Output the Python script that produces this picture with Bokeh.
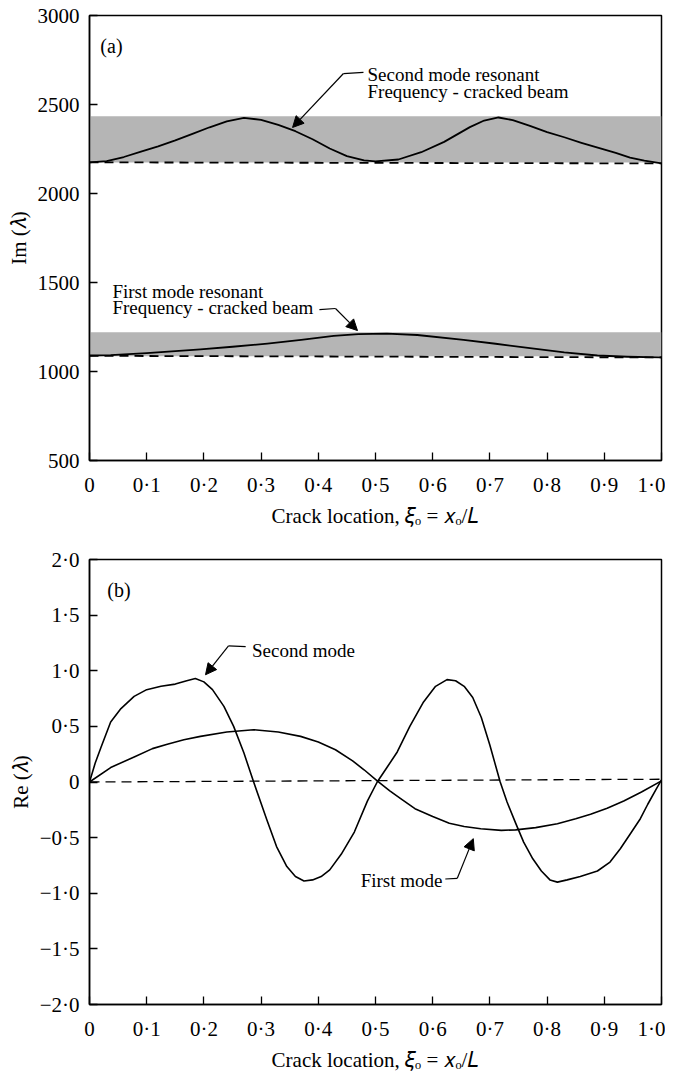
from bokeh.plotting import figure
from bokeh.layouts import column
from bokeh.models import Range1d, FixedTicker, Arrow, NormalHead, ColumnDataSource
from bokeh.embed import file_html
from bokeh.resources import INLINE
from bokeh.core.properties import value

# ---------------- data: panel (a) ----------------
im2_x = [0, 0.03, 0.06, 0.09, 0.12, 0.15, 0.18, 0.21, 0.24, 0.27, 0.30, 0.33, 0.36, 0.39,
         0.42, 0.45, 0.48, 0.50, 0.54, 0.58, 0.62, 0.665, 0.69, 0.715, 0.74, 0.77, 0.80,
         0.83, 0.86, 0.89, 0.92, 0.945, 0.97, 1.0]
im2_y = [2175, 2182, 2205, 2235, 2265, 2298, 2335, 2372, 2405, 2425, 2414, 2385, 2350, 2305,
         2253, 2210, 2186, 2181, 2191, 2232, 2290, 2373, 2410, 2427, 2412, 2380, 2345,
         2316, 2285, 2256, 2228, 2202, 2185, 2169]
im1_x = [0, 0.037, 0.1, 0.194, 0.25, 0.311, 0.37, 0.427, 0.47, 0.52, 0.573, 0.654, 0.71,
         0.77, 0.83, 0.888, 0.94, 1.0]
im1_y = [1090, 1092, 1103, 1124, 1139, 1157, 1178, 1200, 1210, 1213, 1205, 1178, 1156,
         1131, 1108, 1090, 1083, 1079]
uncracked_x = [0, 1]
uncracked2 = [2175, 2169]
uncracked1 = [1088, 1079]
band_bottom = [2174, 1086]
band_top = [2434, 1221]

# ---------------- data: panel (b) ----------------
re2_x = [0, 0.01, 0.02, 0.037, 0.055, 0.078, 0.10, 0.125, 0.15, 0.17, 0.185, 0.20, 0.215,
         0.235, 0.252, 0.27, 0.287, 0.31, 0.327, 0.345, 0.36, 0.375, 0.39, 0.405, 0.42,
         0.44, 0.463, 0.486, 0.503, 0.52, 0.538, 0.56, 0.584, 0.605, 0.625, 0.64, 0.655,
         0.67, 0.685, 0.70, 0.718, 0.73, 0.745, 0.759, 0.775, 0.79, 0.805, 0.818, 0.835,
         0.858, 0.888, 0.91, 0.928, 0.945, 0.963, 0.976, 0.99, 1.0]
re2_y = [0, 0.17, 0.31, 0.54, 0.66, 0.77, 0.83, 0.86, 0.88, 0.91, 0.93, 0.90, 0.83,
         0.68, 0.50, 0.26, 0.0, -0.34, -0.58, -0.76, -0.85, -0.89, -0.88, -0.85, -0.79,
         -0.65, -0.45, -0.17, 0.0, 0.13, 0.27, 0.50, 0.72, 0.86, 0.92, 0.91, 0.86,
         0.76, 0.58, 0.33, 0.0, -0.18, -0.37, -0.54, -0.69, -0.80, -0.88, -0.90, -0.88,
         -0.85, -0.80, -0.72, -0.60, -0.47, -0.33, -0.20, -0.07, 0.02]
re1_x = [0, 0.037, 0.08, 0.11, 0.136, 0.165, 0.194, 0.24, 0.287, 0.33, 0.369, 0.40, 0.43,
         0.46, 0.48, 0.503, 0.525, 0.544, 0.569, 0.60, 0.629, 0.655, 0.684, 0.72, 0.745,
         0.78, 0.818, 0.85, 0.876, 0.905, 0.934, 0.965, 1.0]
re1_y = [0, 0.13, 0.23, 0.30, 0.34, 0.38, 0.41, 0.45, 0.47, 0.45, 0.41, 0.36, 0.29,
         0.19, 0.11, 0.01, -0.08, -0.15, -0.24, -0.31, -0.37, -0.40, -0.42, -0.435, -0.43,
         -0.41, -0.375, -0.33, -0.29, -0.235, -0.17, -0.09, 0.01]
re_zero_y = [0, 0.025]

# ---------------- ticks ----------------
x_ticks = [0, 0.1, 0.2, 0.3, 0.4, 0.5, 0.6, 0.7, 0.8, 0.9, 1.0]
x_tick_labels = ["0", "0·1", "0·2", "0·3", "0·4", "0·5", "0·6", "0·7", "0·8", "0·9", "1·0"]
im_ticks = [500, 1000, 1500, 2000, 2500, 3000]
im_tick_labels = ["500", "1000", "1500", "2000", "2500", "3000"]
re_ticks = [-2.0, -1.5, -1.0, -0.5, 0, 0.5, 1.0, 1.5, 2.0]
re_tick_labels = ["−2·0", "−1·5", "−1·0", "−0·5", "0", "0·5", "1·0", "1·5", "2·0"]

# ---------------- annotation texts (data coordinates) ----------------
a_text = ["(a)", "Second mode resonant", "Frequency - cracked beam",
          "First mode resonant", "Frequency - cracked beam"]
a_text_x = [0.019, 0.486, 0.486, 0.040, 0.040]
a_text_y = [2828, 2669, 2575, 1451, 1361]
a_lead2_x = [0.479, 0.444]
a_lead2_y = [2680, 2674]
a_tip2 = (0.355, 2371)
a_lead1_x = [0.402, 0.430]
a_lead1_y = [1348, 1354]
a_tip1 = (0.4685, 1230)

b_text = ["(b)", "Second mode", "First mode"]
b_text_x = [0.031, 0.284, 0.474]
b_text_y = [1.725, 1.185, -0.885]
b_lead2_x = [0.273, 0.243]
b_lead2_y = [1.217, 1.223]
b_tip2 = (0.2028, 0.964)
b_lead1_x = [0.622, 0.643]
b_lead1_y = [-0.872, -0.866]
b_tip1 = (0.671, -0.509)

FONT = "Liberation Serif"
XLABEL = "Crack location, \U0001D709\u2092 = \U0001D465\u2092/\U0001D43F"
YLABEL_A = "Im (\U0001D706)"
YLABEL_B = "Re (\U0001D706)"


def style(p, yticks, ylabels):
    p.xgrid.visible = False
    p.ygrid.visible = False
    p.outline_line_color = "black"
    p.outline_line_width = 1.5
    p.background_fill_color = "white"
    p.border_fill_color = "white"
    p.xaxis.ticker = FixedTicker(ticks=x_ticks)
    p.xaxis.major_label_overrides = dict(zip(x_ticks, x_tick_labels))
    p.yaxis.ticker = FixedTicker(ticks=yticks)
    p.yaxis.major_label_overrides = dict(zip(yticks, ylabels))
    for ax in (p.xaxis, p.yaxis):
        ax.axis_line_color = "black"
        ax.axis_line_width = 1.5
        ax.major_tick_line_color = "black"
        ax.major_tick_line_width = 1.3
        ax.major_tick_in = 8
        ax.major_tick_out = 0
        ax.minor_tick_line_color = None
        ax.major_label_text_font = FONT
        ax.major_label_text_font_size = "21px"
        ax.major_label_text_color = "black"
        ax.axis_label_text_font = FONT
        ax.axis_label_text_font_size = "21px"
        ax.axis_label_text_font_style = "normal"
        ax.axis_label_text_color = "black"
    p.xaxis.major_label_standoff = 12
    p.yaxis.major_label_standoff = 10
    p.xaxis.axis_label = XLABEL
    p.xaxis.axis_label_standoff = 4
    p.yaxis.axis_label_standoff = 4


def add_text(p, xs, ys, texts, size):
    src = ColumnDataSource(dict(x=xs, y=ys, t=texts))
    p.text(x="x", y="y", text="t", source=src, text_font=value(FONT),
           text_font_size=value(size), text_color="black",
           text_align="left", text_baseline="alphabetic")


def add_leader(p, lx, ly, tip):
    p.line(lx, ly, line_color="black", line_width=1.2)
    p.add_layout(Arrow(end=NormalHead(size=11, fill_color="black", line_color="black"),
                       x_start=lx[-1], y_start=ly[-1], x_end=tip[0], y_end=tip[1],
                       line_color="black", line_width=1.2))


# ---------------- panel (a) ----------------
pa = figure(width=665, height=530, output_backend="svg", toolbar_location=None,
            x_range=Range1d(0, 1), y_range=Range1d(500, 3000),
            min_border_left=89, min_border_right=4, min_border_top=15, min_border_bottom=70)
style(pa, im_ticks, im_tick_labels)
pa.yaxis.axis_label = YLABEL_A
pa.quad(left=[0, 0], right=[1, 1], bottom=band_bottom, top=band_top,
        fill_color="#b5b5b5", line_color=None)
pa.line(uncracked_x, uncracked2, line_color="black", line_width=1.8, line_dash="9 6")
pa.line(uncracked_x, uncracked1, line_color="black", line_width=1.8, line_dash="9 6")
pa.line(im2_x, im2_y, line_color="black", line_width=1.8, line_join="round")
pa.line(im1_x, im1_y, line_color="black", line_width=1.8, line_join="round")
add_text(pa, a_text_x[:1], a_text_y[:1], a_text[:1], "20px")
add_text(pa, a_text_x[1:], a_text_y[1:], a_text[1:], "19px")
add_leader(pa, a_lead2_x, a_lead2_y, a_tip2)
add_leader(pa, a_lead1_x, a_lead1_y, a_tip1)

# ---------------- panel (b) ----------------
pb = figure(width=665, height=544, output_backend="svg", toolbar_location=None,
            x_range=Range1d(0, 1), y_range=Range1d(-2, 2),
            min_border_left=89, min_border_right=4, min_border_top=29, min_border_bottom=67)
style(pb, re_ticks, re_tick_labels)
pb.yaxis.axis_label = YLABEL_B
pb.line(uncracked_x, re_zero_y, line_color="black", line_width=1.3, line_dash="10 6")
pb.line(re2_x, re2_y, line_color="black", line_width=1.6, line_join="round")
pb.line(re1_x, re1_y, line_color="black", line_width=1.6, line_join="round")
add_text(pb, b_text_x[:1], b_text_y[:1], b_text[:1], "20px")
add_text(pb, b_text_x[1:], b_text_y[1:], b_text[1:], "19px")
add_leader(pb, b_lead2_x, b_lead2_y, b_tip2)
add_leader(pb, b_lead1_x, b_lead1_y, b_tip1)

layout = column(pa, pb, spacing=0)
open("out.html", "w").write(file_html(layout, INLINE))
